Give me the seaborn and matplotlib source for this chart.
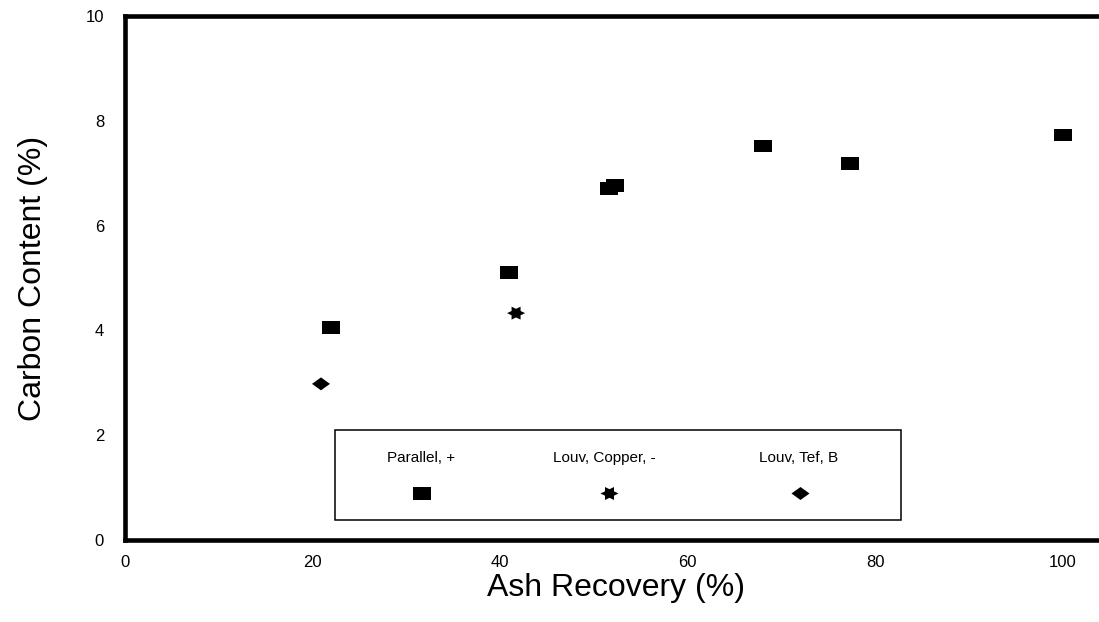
import numpy as np
import pandas as pd
import matplotlib
matplotlib.use("Agg")
import matplotlib.pyplot as plt
from matplotlib.patches import Rectangle
import seaborn as sns

# data
series_names = ["Parallel, +", "Louv, Copper, -", "Louv, Tef, B"]

parallel_x = [22.0, 40.9, 51.6, 52.2, 68.0, 77.3, 100.0]
parallel_y = [4.05, 5.10, 6.70, 6.77, 7.52, 7.19, 7.73]

copper_x = [41.7]
copper_y = [4.33]

tef_x = [20.9]
tef_y = [2.98]

x_ticks = [0, 20, 40, 60, 80, 100]
y_ticks = [0, 2, 4, 6, 8, 10]

df = pd.concat([
    pd.DataFrame({"recovery": parallel_x, "carbon": parallel_y, "series": series_names[0]}),
    pd.DataFrame({"recovery": copper_x, "carbon": copper_y, "series": series_names[1]}),
    pd.DataFrame({"recovery": tef_x, "carbon": tef_y, "series": series_names[2]}),
], ignore_index=True)

# wide, squat marker shapes like the original
rect = np.array([[-1, -0.72], [1, -0.72], [1, 0.72], [-1, 0.72], [-1, -0.72]])
diamond = np.array([[-1, 0], [0, -0.72], [1, 0], [0, 0.72], [-1, 0]])
ang = np.deg2rad(np.arange(0, 360, 30))
rad = np.where(np.arange(12) % 2 == 0, 1.0, 1 / np.sqrt(3))
star = np.column_stack([rad * np.cos(ang), 0.83 * rad * np.sin(ang)])
star = np.vstack([star, star[:1]])
marker_map = {series_names[0]: rect, series_names[1]: star, series_names[2]: diamond}

sns.set_style("white")
plt.rcParams["font.family"] = ["Liberation Sans", "DejaVu Sans"]

fig = plt.figure(figsize=(10.99, 6.22), dpi=100)
ax = fig.add_axes([0.1137, 0.1318, 0.8863, 0.8424])

sns.scatterplot(data=df, x="recovery", y="carbon", style="series",
                style_order=series_names, markers=marker_map, color="black",
                s=168, linewidth=0, legend=False, ax=ax, zorder=3)

ax.set_xlim(0, 103.85)
ax.set_ylim(0, 10)
ax.set_xticks(x_ticks)
ax.set_yticks(y_ticks)
ax.set_xticks([10, 30, 50, 70, 90], minor=True)
ax.set_yticks([1, 3, 5, 7, 9], minor=True)

for side in ["left", "bottom", "top"]:
    ax.spines[side].set_linewidth(3.3)
    ax.spines[side].set_color("black")
ax.spines["right"].set_visible(False)

ax.tick_params(which="both", direction="in", colors="black", labelsize=12)
ax.tick_params(axis="y", which="major", length=11, width=1.8, pad=15)
ax.tick_params(axis="x", which="major", length=9, width=1.8, pad=11)
ax.tick_params(which="minor", length=5, width=1)
ax.tick_params(top=False, right=False, which="both")

ax.set_xlabel("Ash Recovery (%)", fontsize=23, color="black")
ax.set_ylabel("Carbon Content (%)", fontsize=23, color="black")
ax.xaxis.set_label_coords(0.504, -0.062)
ax.yaxis.set_label_coords(-0.079, 0.5)

# legend box: labels above, markers below
ax.add_patch(Rectangle((0.2156, 0.0382), 0.5811, 0.1717, transform=ax.transAxes,
                       fill=False, edgecolor="black", linewidth=1.1, zorder=4))
label_x = [0.304, 0.492, 0.692]
mark_x = [0.3049, 0.4969, 0.693]
for name, lx, mx in zip(series_names, label_x, mark_x):
    ax.text(lx, 0.1565, name, transform=ax.transAxes, ha="center", va="center",
            fontsize=11, color="black")
    ax.plot([mx], [0.0897], transform=ax.transAxes, marker=marker_map[name],
            markersize=13, color="black", markeredgewidth=0, linestyle="none")

fig.savefig("out.png", dpi=100)
